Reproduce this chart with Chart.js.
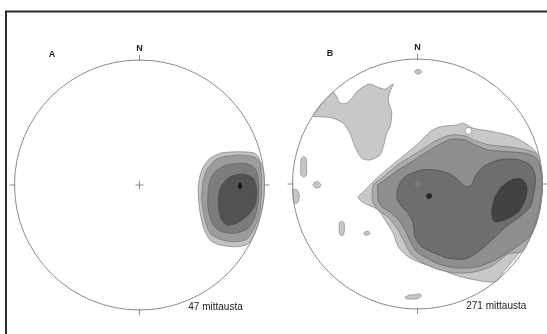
<!DOCTYPE html>
<html>
<head>
<meta charset="utf-8">
<script src="https://cdn.jsdelivr.net/npm/chart.js@4.4.0/dist/chart.umd.min.js"></script>
<style>
  body { margin: 0; background: #fff; }
  #wrap { width: 547px; height: 334px; position: relative; }
</style>
</head>
<body>
<div id="wrap"><canvas id="stereo"></canvas></div>
<script>
// labels
var netLabels = ["A", "B"];
var netCounts = ["47 mittausta", "271 mittausta"];
var northLabel = "N";

// contour outlines, in net units (primitive circle radius = 100)
// net A
var a1 = [[65.8,25.8],[77.8,26.6],[91,25.8],[95,22.6],[99,12],[100,0],[98.7,-16],[93.5,-35.5],[87,-47],[77.8,-49.4],[64.4,-48],[56.4,-44],[51,-33.4],[47.8,-17.4],[47,-1.4],[49.8,12],[56.4,21.4]];
var a2 = [[67,22.6],[80.4,24],[92.4,22.2],[96.4,17.4],[97.8,1.4],[96.4,-20],[92.4,-33.4],[85.8,-43.4],[75,-45.4],[64.4,-43.4],[56.4,-38.6],[52.4,-28],[49.8,-12],[50.6,1.4],[53.8,12],[60.4,20]];
var a3 = [[61.8,12],[69.8,16],[84.4,17.4],[92.4,13.4],[95,4],[95,-12],[92.4,-25.4],[87,-34.6],[76.4,-38.6],[65.8,-37.4],[59,-32],[55,-20],[55,-4],[57,5.4]];
var a4 = [[65.8,0],[72.4,6.6],[83,8.8],[91,5.4],[93.8,-4],[92.4,-16],[87,-24],[77.8,-30.6],[69.8,-32],[65,-26.6],[63,-14.6],[63.8,-5.4]];
var a5 = [[79.4,-0.8],[79.8,1.4],[81,1.4],[81.4,-0.8],[81,-3],[79.8,-3]];

// net B
var b1 = [[-44.6,-7.4],[-41.2,-4.2],[-32.6,4.6],[-22,13.8],[-8.6,24.6],[2,33.8],[10,41.8],[18,45.8],[31.4,47.2],[36.6,48.6],[44.6,44.6],[60.6,41.8],[76.6,37.8],[88.6,31.2],[95.4,24.6],[98.8,7.2],[99.6,-4.8],[98,-20.8],[94.8,-32.8],[86,-48.8],[78,-59.2],[70,-68.8],[62,-78.2],[43.4,-76.2],[30,-72.8],[16.6,-67.4],[3.4,-63.4],[-7.4,-58.2],[-15.4,-50.2],[-19.4,-39.4],[-26,-28.8],[-31.4,-20.8],[-39.4,-16.8],[-44.6,-14.2],[-47.6,-10.4]];
var b2 = [[-36.4,-6.4],[-34.8,0],[-28.4,4.8],[-17.2,14.4],[-6,21.6],[4.4,28],[15.6,35.2],[26.8,39.2],[38,38.4],[46.8,34.4],[58,31.2],[74,29.6],[87.6,27.2],[96.4,23.2],[99.3,10],[100,0],[98.8,-15],[95,-31],[90,-43],[84,-54],[72.4,-56],[59.6,-65.6],[45.2,-70.4],[30.8,-71.2],[18,-68.8],[6,-64],[-5.2,-56],[-10.8,-45.6],[-16.4,-35.2],[-23.6,-26.4],[-31.6,-20.8],[-35.6,-14.4]];
var b3 = [[-31.8,-4.8],[-31.8,-0.8],[-26,3.2],[-15.4,11.2],[-4.6,17.8],[6,24.6],[16.6,31.2],[27.4,35.8],[38,35.2],[46,31.2],[56.6,27.2],[72.6,25.8],[86,24.6],[95.4,20.6],[98.8,9.6],[99.6,-3.2],[98,-16.8],[94,-32.8],[89.2,-42.4],[75.4,-52.8],[62,-60.8],[48.6,-66.2],[32.6,-67.2],[19.4,-64.8],[8.6,-60],[-2,-52.8],[-7.4,-42.4],[-12.6,-32],[-20.6,-23.4],[-28.6,-18.2],[-31.4,-12.8]];
var b4 = [[-16.6,-11.4],[-15.4,-2.2],[-10,5.8],[3.4,11.2],[14,11.2],[24.6,8.6],[32.6,3.2],[38,-2.2],[43.4,-0.8],[46,5.8],[52.6,13.8],[65,19.2],[79,19.8],[90.2,15.2],[94.3,5.8],[93,-7.4],[90.2,-18.2],[81.8,-26.2],[70.6,-34.2],[62.2,-42.2],[48.4,-54.4],[38,-60],[24.6,-59.4],[14,-55.4],[3.4,-50.2],[-2,-42.2],[-3.4,-31.4],[-7.4,-23.4],[-12.6,-18.2]];
var b5 = [[62,-10.2],[67.4,-2.2],[75.4,3.2],[83.4,3.8],[87.4,-2.2],[86,-12.8],[80.6,-22.2],[72.6,-27.4],[62,-30.2],[59.4,-23.4]];
var bDot = [[7.2,-9.6],[8.2,-8],[10.4,-7.9],[11.4,-9.6],[10.2,-11.3],[8,-11.3]];
var bHole = [[38,42.4],[39,44.8],[42,45.2],[43.4,42.6],[42.2,40],[39.4,39.8]];
var bNW = [[-67.4,73.8],[-64.6,69.8],[-62,64.6],[-56.6,64.6],[-52.6,68.6],[-48.6,73.8],[-43.4,77.8],[-38,80],[-32.6,77.8],[-26,75.8],[-22,78.4],[-19.4,80],[-22,73.8],[-23.4,67.2],[-20.6,56.6],[-22,45.8],[-24.6,40.6],[-27.4,29.8],[-30,23.2],[-38,19.2],[-44.6,20.6],[-50,29.8],[-54,40.6],[-59.4,48.6],[-67.4,52.6],[-75.4,53.8],[-83.4,54.4],[-76.4,64.8]];
var bIslands = [
  [[-2.2,89.8],[-1.2,91.3],[1.8,91.4],[3.4,89.8],[2,88.3],[-0.8,88.2]],
  [[-93.2,20],[-91.5,21.8],[-89.2,20.5],[-88.8,14],[-89,7],[-91,5.8],[-93.2,7.5],[-93.4,14]],
  [[-83.8,-0.8],[-82.5,1.4],[-79.4,1.6],[-77.4,-0.6],[-78.6,-2.8],[-81.8,-3]],
  [[-99.8,-4],[-96,-5],[-94.5,-10],[-96,-15],[-99,-15]],
  [[-62.6,-31],[-61,-29.8],[-58.8,-31],[-58.6,-38],[-59.6,-41],[-61.6,-40.8],[-62.6,-38]],
  [[-43,-39.4],[-41.6,-38],[-39,-38],[-38.2,-39.6],[-39.6,-40.9],[-42,-40.8]],
  [[-10,-90.6],[-7,-89],[-2,-88.6],[2,-88],[3,-89.6],[0,-91.8],[-6,-92],[-9,-91.8]]
];

// layout: where each net sits on the shared x/y scales
var netCenter = [[0, 0], [222.4, 0.8]];
var R = 100;

var shadesA = ["#c2c2c2", "#9c9c9c", "#7c7c7c", "#525252", "#464646", "#111111"];
var shadesB = ["#c8c8c8", "#ababab", "#8e8e8e", "#6e6e6e", "#424242", "#2a2a2a"];
var edges = ["#8c8c8c", "#7c7c7c", "#666666", "#4e4e4e", "#333333", "#111111"];

function shape(pts, net, level, fillOverride) {
  var c = netCenter[net];
  var data = pts.map(function(p) { return {x: p[0] + c[0], y: p[1] + c[1]}; });
  data.push(data[0]);
  var shades = net === 0 ? shadesA : shadesB;
  return {
    data: data,
    showLine: true,
    fill: 'shape',
    backgroundColor: fillOverride || shades[level],
    borderColor: edges[level],
    borderWidth: 0.8,
    pointRadius: 0,
    tension: 0.25
  };
}

// painting order: light first, dark on top
var drawList = [
  shape(a1, 0, 0), shape(a2, 0, 1), shape(a3, 0, 2), shape(a4, 0, 3), shape(a5, 0, 5),
  shape(bNW, 1, 0),
  shape(b1, 1, 0), shape(bHole, 1, 0, "#ffffff"), shape(b2, 1, 1), shape(b3, 1, 2), shape(b4, 1, 3),
  shape(b5, 1, 4), shape(bDot, 1, 5)
];
bIslands.forEach(function(isl) { drawList.push(shape(isl, 1, 0)); });
drawList.forEach(function(ds, i) { ds.order = drawList.length - i; });

var netDecor = {
  id: 'netDecor',
  afterDatasetsDraw: function(chart) {
    var ctx = chart.ctx;
    var xs = chart.scales.x, ys = chart.scales.y;
    var unit = xs.getPixelForValue(1) - xs.getPixelForValue(0);
    ctx.save();
    // frame
    ctx.strokeStyle = "#2a2a2a";
    ctx.lineWidth = 2;
    ctx.strokeRect(6, 11.5, 600, 400);

    for (var n = 0; n < 2; n++) {
      var cx = xs.getPixelForValue(netCenter[n][0]);
      var cy = ys.getPixelForValue(netCenter[n][1]);
      var r = R * unit;
      ctx.strokeStyle = "#8a8a8a";
      ctx.lineWidth = 1;
      ctx.beginPath();
      ctx.arc(cx, cy, r, 0, Math.PI * 2);
      ctx.stroke();
      // ticks at N, E, S, W
      ctx.beginPath();
      ctx.moveTo(cx, cy - r + 1); ctx.lineTo(cx, cy - r - 5);
      ctx.moveTo(cx, cy + r - 1); ctx.lineTo(cx, cy + r + 5);
      ctx.moveTo(cx - r + 1, cy); ctx.lineTo(cx - r - 5, cy);
      ctx.moveTo(cx + r - 1, cy); ctx.lineTo(cx + r + 5, cy);
      // centre cross
      ctx.moveTo(cx - 4, cy); ctx.lineTo(cx + 4, cy);
      ctx.moveTo(cx, cy - 4); ctx.lineTo(cx, cy + 4);
      ctx.stroke();

      ctx.fillStyle = "#222";
      ctx.textAlign = "center";
      ctx.textBaseline = "middle";
      ctx.font = "bold 9px 'Liberation Sans', Arial, sans-serif";
      ctx.fillText(northLabel, cx, cy - r - 11);
      ctx.fillText(netLabels[n], cx - 0.7 * r, cy - r - 5);
      ctx.textAlign = "left";
      ctx.font = "10px 'Liberation Sans', Arial, sans-serif";
      ctx.fillText(netCounts[n], cx + 0.39 * r, cy + r - 3);
    }
    ctx.restore();
  }
};

new Chart(document.getElementById('stereo'), {
  type: 'line',
  data: { datasets: drawList },
  options: {
    responsive: true,
    maintainAspectRatio: false,
    animation: false,
    layout: { padding: 0 },
    plugins: { legend: { display: false }, tooltip: { enabled: false } },
    events: [],
    scales: {
      x: { type: 'linear', display: false, min: -111.6, max: 326 },
      y: { type: 'linear', display: false, min: -119.2, max: 148 }
    }
  },
  plugins: [netDecor]
});
</script>
</body>
</html>
